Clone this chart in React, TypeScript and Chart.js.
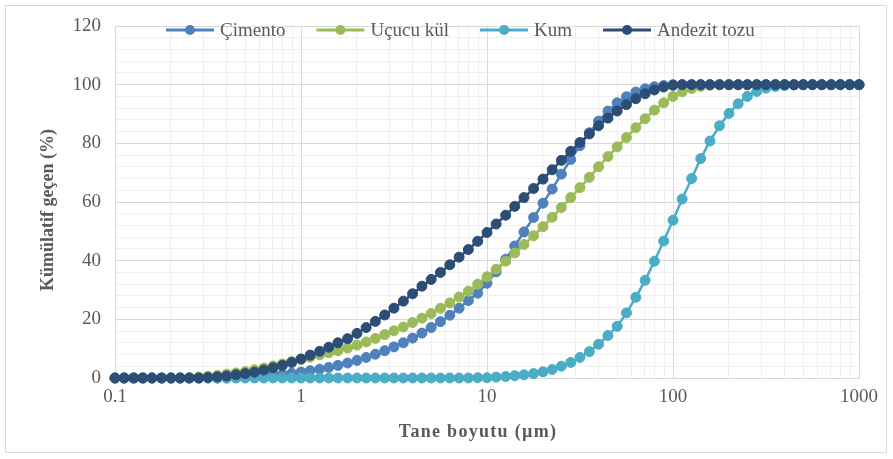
import { useEffect, useRef } from "react";
import { Chart, registerables } from "chart.js";

Chart.register(...registerables);

// Particle size (µm), log-spaced bins
const SIZES = [
  0.1, 0.112, 0.126, 0.141, 0.158, 0.178, 0.2, 0.224, 0.251, 0.282,
  0.316, 0.355, 0.398, 0.447, 0.501, 0.562, 0.631, 0.708, 0.794, 0.891,
  1, 1.12, 1.26, 1.41, 1.58, 1.78, 2, 2.24, 2.51, 2.82,
  3.16, 3.55, 3.98, 4.47, 5.01, 5.62, 6.31, 7.08, 7.94, 8.91,
  10, 11.2, 12.6, 14.1, 15.8, 17.8, 20, 22.4, 25.1, 28.2,
  31.6, 35.5, 39.8, 44.7, 50.1, 56.2, 63.1, 70.8, 79.4, 89.1,
  100, 112, 126, 141, 158, 178, 200, 224, 251, 282,
  316, 355, 398, 447, 501, 562, 631, 708, 794, 891,
  1000,
];

const CIMENTO = [
  0, 0, 0, 0, 0, 0, 0, 0, 0, 0,
  0, 0, 0, 0.1, 0.2, 0.4, 0.7, 1.0, 1.3, 1.6,
  2.0, 2.5, 3.0, 3.6, 4.3, 5.1, 6.0, 7.0, 8.1, 9.3,
  10.6, 12.0, 13.6, 15.3, 17.2, 19.2, 21.4, 23.8, 26.4, 28.9,
  32.3, 36.2, 40.5, 45.0, 49.8, 54.7, 59.6, 64.4, 69.5, 74.5,
  79.2, 83.6, 87.6, 91.0, 93.8, 95.9, 97.5, 98.6, 99.3, 99.7,
  100, 100, 100, 100, 100, 100, 100, 100, 100, 100,
  100, 100, 100, 100, 100, 100, 100, 100, 100, 100,
  100,
];

const UCUCU_KUL = [
  0, 0, 0, 0, 0, 0, 0, 0, 0.1, 0.3,
  0.6, 0.9, 1.3, 1.7, 2.2, 2.8, 3.4, 4.1, 4.8, 5.6,
  6.3, 7.1, 7.9, 8.6, 9.3, 10.2, 11.2, 12.3, 13.5, 14.8,
  16.1, 17.4, 18.9, 20.4, 22.0, 23.8, 25.6, 27.6, 29.6, 32.0,
  34.5, 37.1, 39.8, 42.6, 45.5, 48.5, 51.6, 54.8, 58.1, 61.5,
  64.9, 68.4, 72.0, 75.5, 78.8, 82.0, 85.3, 88.4, 91.3, 93.8,
  96.0, 97.6, 98.7, 99.4, 99.8, 100, 100, 100, 100, 100,
  100, 100, 100, 100, 100, 100, 100, 100, 100, 100,
  100,
];

const KUM = [
  0, 0, 0, 0, 0, 0, 0, 0, 0, 0,
  0, 0, 0, 0, 0, 0, 0, 0, 0, 0,
  0, 0, 0, 0, 0, 0, 0, 0, 0, 0,
  0, 0, 0, 0, 0, 0, 0, 0, 0, 0.1,
  0.1, 0.3, 0.5, 0.8, 1.1, 1.5, 2.1, 2.9, 4.0, 5.3,
  7.0, 9.0, 11.5, 14.5, 17.6, 22.2, 27.5, 33.3, 39.8, 46.7,
  53.8, 61.0, 68.0, 74.8, 80.8, 86.0, 90.2, 93.5, 96.0, 97.7,
  98.8, 99.4, 99.7, 99.9, 100, 100, 100, 100, 100, 100,
  100,
];

const ANDEZIT_TOZU = [
  0, 0, 0, 0, 0, 0, 0, 0, 0, 0,
  0.2, 0.4, 0.7, 1.1, 1.5, 2.0, 2.7, 3.5, 4.3, 5.3,
  6.5, 7.8, 9.1, 10.5, 12.0, 13.4, 15.2, 17.2, 19.3, 21.5,
  23.8, 26.2, 28.7, 31.3, 33.6, 36.0, 38.6, 41.2, 43.8, 46.6,
  49.6, 52.5, 55.5, 58.5, 61.5, 64.6, 67.8, 71.0, 74.2, 77.3,
  80.3, 83.2, 86.0, 88.6, 91.0, 93.2, 95.2, 96.9, 98.2, 99.2,
  99.8, 100, 100, 100, 100, 100, 100, 100, 100, 100,
  100, 100, 100, 100, 100, 100, 100, 100, 100, 100,
  100,
];

const SERIES_NAMES = ["Çimento", "Uçucu kül", "Kum", "Andezit tozu"];
const SERIES_VALUES = [CIMENTO, UCUCU_KUL, KUM, ANDEZIT_TOZU];
const SERIES_COLORS = ["#4F81BD", "#9BBB59", "#4BACC6", "#2C4D75"];
const SERIES_ORDER = [3, 2, 1, 0];

const X_TITLE = "Tane boyutu (µm)";
const Y_TITLE = "Kümülatif geçen (%)";

const X_MIN = 0.1;
const X_MAX = 1000;
const X_LABELS = [0.1, 1, 10, 100, 1000];
const Y_MIN = 0;
const Y_MAX = 120;
const Y_MAJOR = 20;
const Y_MINOR = 4;

const FONT = "'Liberation Serif', 'Times New Roman', serif";
const TEXT_COLOR = "#595959";

function buildLogGrid(): number[] {
  const out: number[] = [];
  for (let e = Math.round(Math.log10(X_MIN)); e < Math.round(Math.log10(X_MAX)); e++) {
    for (let s = 1; s <= 9; s++) out.push(Number((s * Math.pow(10, e)).toPrecision(6)));
  }
  out.push(X_MAX);
  return out;
}

function isDecade(v: number) {
  const l = Math.log10(v);
  return Math.abs(l - Math.round(l)) < 1e-6;
}

const lineLegend = {
  id: "lineLegend",
  afterDraw(chart: any) {
    const { ctx, chartArea } = chart;
    ctx.save();
    ctx.font = `19px ${FONT}`;
    ctx.textBaseline = "middle";
    let x = chartArea.left + 51;
    const y = chartArea.top + 4;
    for (const d of chart.data.datasets) {
      ctx.strokeStyle = d.borderColor;
      ctx.lineWidth = 3;
      ctx.beginPath();
      ctx.moveTo(x, y);
      ctx.lineTo(x + 48, y);
      ctx.stroke();
      ctx.fillStyle = d.borderColor;
      ctx.beginPath();
      ctx.arc(x + 24, y, 5, 0, Math.PI * 2);
      ctx.fill();
      x += 54;
      ctx.fillStyle = TEXT_COLOR;
      ctx.fillText(d.label, x, y + 1);
      x += ctx.measureText(d.label).width + 31;
    }
    ctx.restore();
  },
};

const axisTitles = {
  id: "axisTitles",
  afterDraw(chart: any) {
    const { ctx, chartArea } = chart;
    ctx.save();
    ctx.fillStyle = TEXT_COLOR;
    ctx.font = `bold 18px ${FONT}`;
    ctx.textAlign = "center";
    ctx.textBaseline = "middle";
    // x title
    try {
      (ctx as any).letterSpacing = "1.3px";
    } catch (e) {}
    ctx.fillText(X_TITLE, (chartArea.left + chartArea.right) / 2 - 9, 432);
    try {
      (ctx as any).letterSpacing = "0px";
    } catch (e) {}
    // y title
    ctx.translate(48, (chartArea.top + chartArea.bottom) / 2 + 8);
    ctx.rotate(-Math.PI / 2);
    ctx.fillText(Y_TITLE, 0, 0);
    ctx.restore();
  },
};

export default function App() {
  const canvasRef = useRef<HTMLCanvasElement | null>(null);

  useEffect(() => {
    if (!canvasRef.current) return;
    const grid = buildLogGrid();
    const chart = new Chart(canvasRef.current, {
      type: "line",
      data: {
        datasets: SERIES_NAMES.map((name, i) => ({
          label: name,
          data: SIZES.map((s, j) => ({ x: s, y: SERIES_VALUES[i][j] })),
          borderColor: SERIES_COLORS[i],
          backgroundColor: SERIES_COLORS[i],
          pointBackgroundColor: SERIES_COLORS[i],
          pointBorderColor: SERIES_COLORS[i],
          borderWidth: 2.5,
          pointRadius: 5,
          pointBorderWidth: 1,
          pointHoverRadius: 5,
          tension: 0,
          order: SERIES_ORDER[i],
          clip: false as any,
        })),
      },
      options: {
        animation: false,
        responsive: false,
        maintainAspectRatio: false,
        layout: { padding: { left: 37, top: 26, right: 34, bottom: 16 } },
        plugins: {
          legend: { display: false },
          tooltip: { enabled: false },
        },
        scales: {
          x: {
            type: "logarithmic",
            min: X_MIN,
            max: X_MAX,
            afterBuildTicks: (scale: any) => {
              scale.ticks = grid.map((v) => ({ value: v, major: isDecade(v) }));
            },
            afterFit: (scale: any) => {
              scale.height = 65;
            },
            ticks: {
              autoSkip: false,
              maxRotation: 0,
              padding: 8,
              color: TEXT_COLOR,
              font: { family: FONT, size: 19 },
              callback: (v: any) => {
                const n = Number(v);
                return X_LABELS.some((l) => Math.abs(l - n) < 1e-9) ? String(n) : "";
              },
            },
            grid: {
              drawTicks: false,
              color: (c: any) => (c.tick && isDecade(c.tick.value) ? "#d9d9d9" : "#efefef"),
              lineWidth: 1,
            },
            border: { display: true, color: "#d9d9d9" },
          },
          y: {
            type: "linear",
            min: Y_MIN,
            max: Y_MAX,
            afterFit: (scale: any) => {
              scale.width = 78;
            },
            ticks: {
              stepSize: Y_MINOR,
              autoSkip: false,
              padding: 14,
              color: TEXT_COLOR,
              font: { family: FONT, size: 19 },
              callback: (v: any) => (Number(v) % Y_MAJOR === 0 ? String(v) : ""),
            },
            grid: {
              drawTicks: false,
              color: (c: any) => (c.tick && c.tick.value % Y_MAJOR === 0 ? "#d9d9d9" : "#efefef"),
              lineWidth: 1,
            },
            border: { display: true, color: "#d9d9d9" },
          },
        },
      } as any,
      plugins: [lineLegend, axisTitles],
    });
    return () => chart.destroy();
  }, []);

  return (
    <div
      style={{
        position: "fixed",
        left: 0,
        top: 0,
        width: 893,
        height: 459,
        background: "#ffffff",
      }}
    >
      <canvas ref={canvasRef} width={893} height={459} style={{ display: "block" }} />
      <div
        style={{
          position: "absolute",
          left: 5,
          top: 5,
          width: 882,
          height: 448,
          border: "1px solid #d9d9d9",
          boxSizing: "border-box",
          pointerEvents: "none",
        }}
      />
    </div>
  );
}
